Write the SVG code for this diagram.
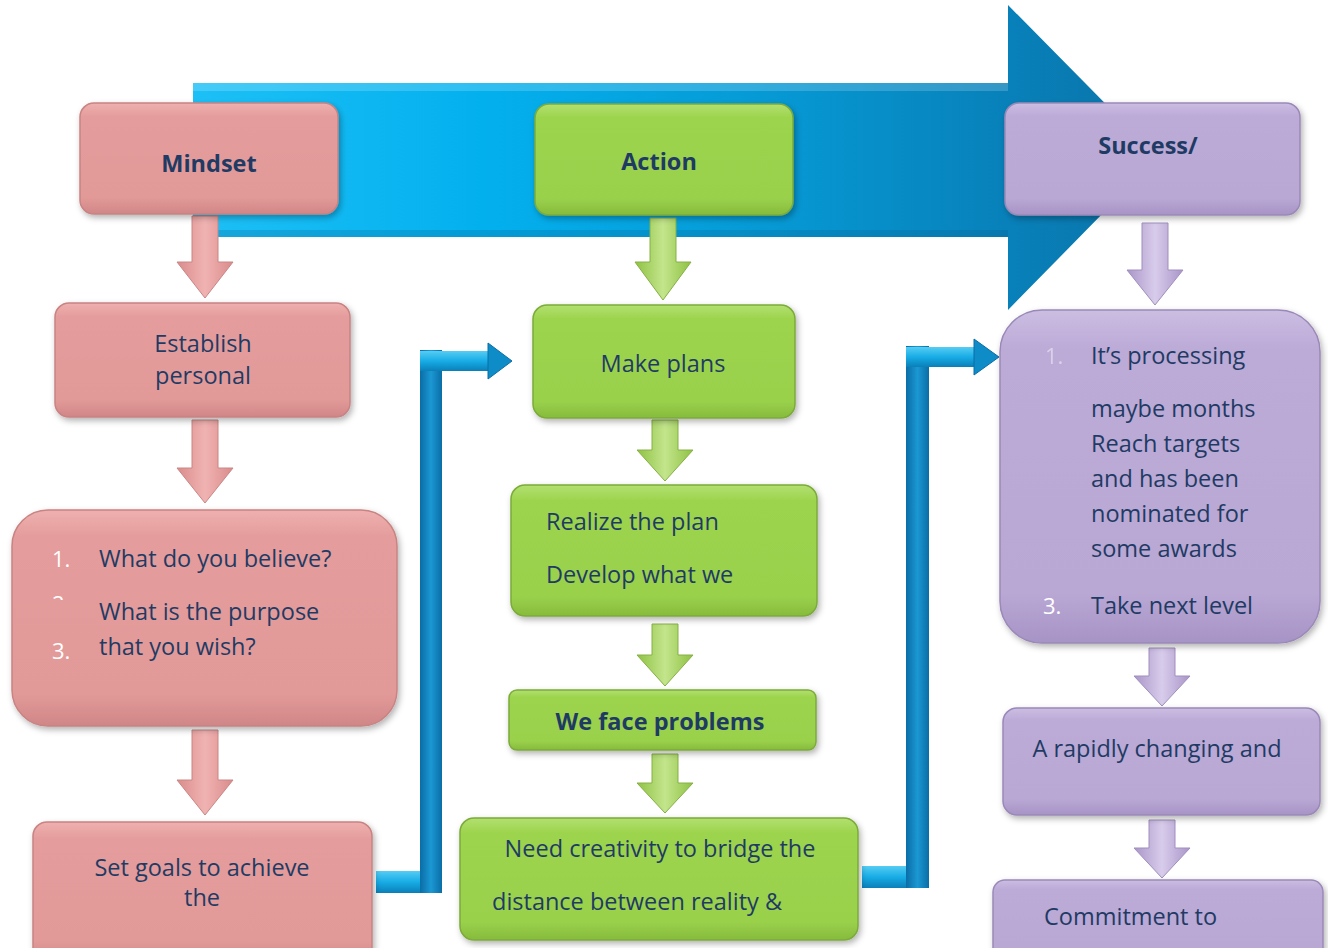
<svg xmlns="http://www.w3.org/2000/svg" width="1328" height="948" viewBox="0 0 1328 948">
<style>
.t{font-family:"Open Sans","Liberation Sans",sans-serif;font-size:23.5px;fill:#1f3b64}
.b{font-weight:bold}
.c{text-anchor:middle}
.n{font-family:"Open Sans","Liberation Sans",sans-serif;font-size:22px;fill:#ffffff}
.pk{fill:url(#gPink);stroke:#c88382;stroke-width:1.5;filter:url(#sh)}
.gr{fill:url(#gGreen);stroke:#7cab3a;stroke-width:1.5;filter:url(#sh)}
.pu{fill:url(#gPurple);stroke:#9a89b8;stroke-width:1.5;filter:url(#sh)}
.apk{fill:url(#aPink);stroke:#c98686;stroke-width:1}
.agr{fill:url(#aGreen);stroke:#86b044;stroke-width:1}
.apu{fill:url(#aPurple);stroke:#a08fbd;stroke-width:1}
</style>
<defs>
<filter id="sh" x="-10%" y="-10%" width="120%" height="130%">
<feDropShadow dx="2" dy="3" stdDeviation="3" flood-color="#000" flood-opacity="0.3"/>
</filter>
<linearGradient id="gPink" x1="0" y1="0" x2="0" y2="1">
<stop offset="0" stop-color="#eeb0af"/><stop offset="0.12" stop-color="#e49d9c"/><stop offset="0.85" stop-color="#e29a99"/><stop offset="1" stop-color="#d08686"/>
</linearGradient>
<linearGradient id="gGreen" x1="0" y1="0" x2="0" y2="1">
<stop offset="0" stop-color="#b2e070"/><stop offset="0.12" stop-color="#9dd44e"/><stop offset="0.85" stop-color="#9ad14c"/><stop offset="1" stop-color="#86bb3c"/>
</linearGradient>
<linearGradient id="gPurple" x1="0" y1="0" x2="0" y2="1">
<stop offset="0" stop-color="#cbbde2"/><stop offset="0.12" stop-color="#bcaad7"/><stop offset="0.85" stop-color="#b9a7d4"/><stop offset="1" stop-color="#a794c6"/>
</linearGradient>
<linearGradient id="aPink" x1="0" y1="0" x2="1" y2="0">
<stop offset="0" stop-color="#d98c8b"/><stop offset="0.5" stop-color="#f0b3b2"/><stop offset="1" stop-color="#d98c8b"/>
</linearGradient>
<linearGradient id="aGreen" x1="0" y1="0" x2="1" y2="0">
<stop offset="0" stop-color="#8fc244"/><stop offset="0.5" stop-color="#c3e58c"/><stop offset="1" stop-color="#8fc244"/>
</linearGradient>
<linearGradient id="aPurple" x1="0" y1="0" x2="1" y2="0">
<stop offset="0" stop-color="#a995c8"/><stop offset="0.5" stop-color="#d8cceb"/><stop offset="1" stop-color="#a995c8"/>
</linearGradient>
<linearGradient id="gBig" gradientUnits="userSpaceOnUse" x1="193" y1="0" x2="1158" y2="0">
<stop offset="0" stop-color="#1dc0f6"/><stop offset="0.3" stop-color="#03b0ee"/><stop offset="0.6" stop-color="#0699d4"/><stop offset="0.85" stop-color="#0880b9"/><stop offset="1" stop-color="#0a74a8"/>
</linearGradient>
<linearGradient id="gV" x1="0" y1="0" x2="1" y2="0">
<stop offset="0" stop-color="#0a6da6"/><stop offset="0.5" stop-color="#1b98d3"/><stop offset="1" stop-color="#0a6da6"/>
</linearGradient>
<linearGradient id="gH" x1="0" y1="0" x2="0" y2="1">
<stop offset="0" stop-color="#56ccf3"/><stop offset="0.5" stop-color="#17ace6"/><stop offset="1" stop-color="#0b7fb8"/>
</linearGradient>
</defs>

<rect width="1328" height="948" fill="#ffffff"/>

<g id="big-arrow">
<polygon points="193,83 1008,83 1008,5 1158,157 1008,310 1008,237 193,237" fill="url(#gBig)"/>
<rect x="193" y="83" width="815" height="8" fill="#ffffff" opacity="0.18"/>
<rect x="193" y="230" width="815" height="7" fill="#05608f" opacity="0.25"/>
</g>

<g id="connectors">
<g id="conn-left">
<rect x="376" y="871" width="66" height="22" fill="url(#gH)"/>
<rect x="420" y="350" width="22" height="543" fill="url(#gV)"/>
<rect x="420" y="351" width="70" height="20" fill="url(#gH)"/>
<polygon points="488,343 512,361 488,379" fill="#0e8cc8" stroke="#0a6da6" stroke-width="1"/>
</g>
<g id="conn-right">
<rect x="862" y="866" width="67" height="22" fill="url(#gH)"/>
<rect x="906" y="346" width="23" height="542" fill="url(#gV)"/>
<rect x="906" y="347" width="70" height="20" fill="url(#gH)"/>
<polygon points="974,339 999,357 974,375" fill="#0e8cc8" stroke="#0a6da6" stroke-width="1"/>
</g>
<path class="apk" d="M192,216 H218 V262 H233 L205,298 L177,262 H192 Z"/>
<path class="apk" d="M192,420 H218 V468 H233 L205,503 L177,468 H192 Z"/>
<path class="apk" d="M192,730 H218 V780 H233 L205,815 L177,780 H192 Z"/>
<path class="agr" d="M650,218 H676 V262 H691 L663,300 L635,262 H650 Z"/>
<path class="agr" d="M652,420 H678 V450 H693 L665,481 L637,450 H652 Z"/>
<path class="agr" d="M652,624 H678 V655 H693 L665,686 L637,655 H652 Z"/>
<path class="agr" d="M652,754 H678 V783 H693 L665,813 L637,783 H652 Z"/>
<path class="apu" d="M1142,223 H1168 V270 H1183 L1155,305 L1127,270 H1142 Z"/>
<path class="apu" d="M1149,648 H1175 V676 H1190 L1162,706 L1134,676 H1149 Z"/>
<path class="apu" d="M1149,820 H1175 V848 H1190 L1162,878 L1134,848 H1149 Z"/>
</g>

<g id="mindset">
<rect class="pk" x="80" y="103" width="258" height="111" rx="14"/>
<text class="t b c" x="209" y="172" font-size="27">Mindset</text>
</g>
<g id="establish">
<rect class="pk" x="55" y="303" width="295" height="114" rx="14"/>
<text class="t c" x="203" y="352">Establish</text>
<text class="t c" x="203" y="384">personal</text>
</g>
<g id="questions">
<rect class="pk" x="12" y="510" width="385" height="216" rx="36"/>
<text class="n" x="52" y="567">1.</text>
<text class="t" x="99" y="567">What do you believe?</text>
<clipPath id="c2"><rect x="40" y="590" width="40" height="10"/></clipPath>
<text class="n" x="52" y="612" clip-path="url(#c2)">2.</text>
<text class="t" x="99" y="620">What is the purpose</text>
<text class="n" x="52" y="659">3.</text>
<text class="t" x="99" y="655">that you wish?</text>
</g>
<g id="setgoals">
<rect class="pk" x="33" y="822" width="339" height="140" rx="14"/>
<text class="t c" x="202" y="876">Set goals to achieve</text>
<text class="t c" x="202" y="906">the</text>
</g>

<g id="action">
<rect class="gr" x="535" y="104" width="258" height="111" rx="14"/>
<text class="t b c" x="659" y="170" font-size="20">Action</text>
</g>
<g id="makeplans">
<rect class="gr" x="533" y="305" width="262" height="113" rx="14"/>
<text class="t c" x="663" y="372">Make plans</text>
</g>
<g id="realize">
<rect class="gr" x="511" y="485" width="306" height="131" rx="14"/>
<text class="t" x="546" y="530">Realize the plan</text>
<text class="t" x="546" y="583">Develop what we</text>
</g>
<g id="problems">
<rect class="gr" x="509" y="690" width="307" height="60" rx="8"/>
<text class="t b c" x="660" y="730" font-size="21.5">We face problems</text>
</g>
<g id="creativity">
<rect class="gr" x="460" y="818" width="398" height="122" rx="14"/>
<text class="t c" x="660" y="857">Need creativity to bridge the</text>
<text class="t" x="492" y="910">distance between reality &amp;</text>
</g>

<g id="success">
<rect class="pu" x="1005" y="103" width="295" height="112" rx="14"/>
<text class="t b c" x="1148" y="154" font-size="20">Success/</text>
</g>
<g id="processing">
<rect class="pu" x="1000" y="310" width="320" height="333" rx="42"/>
<text class="n" x="1045" y="364" opacity="0.45">1.</text>
<text class="t" x="1091" y="364">It’s processing</text>
<text class="t" x="1091" y="417">maybe months</text>
<text class="t" x="1091" y="452">Reach targets</text>
<text class="t" x="1091" y="487">and has been</text>
<text class="t" x="1091" y="522">nominated for</text>
<text class="t" x="1091" y="557">some awards</text>
<text class="n" x="1043" y="614">3.</text>
<text class="t" x="1091" y="614">Take next level</text>
</g>
<g id="changing">
<rect class="pu" x="1003" y="708" width="317" height="107" rx="14"/>
<text class="t c" x="1157" y="757">A rapidly changing and</text>
</g>
<g id="commitment">
<rect class="pu" x="993" y="880" width="330" height="80" rx="12"/>
<text class="t" x="1044" y="925">Commitment to</text>
</g>
</svg>
